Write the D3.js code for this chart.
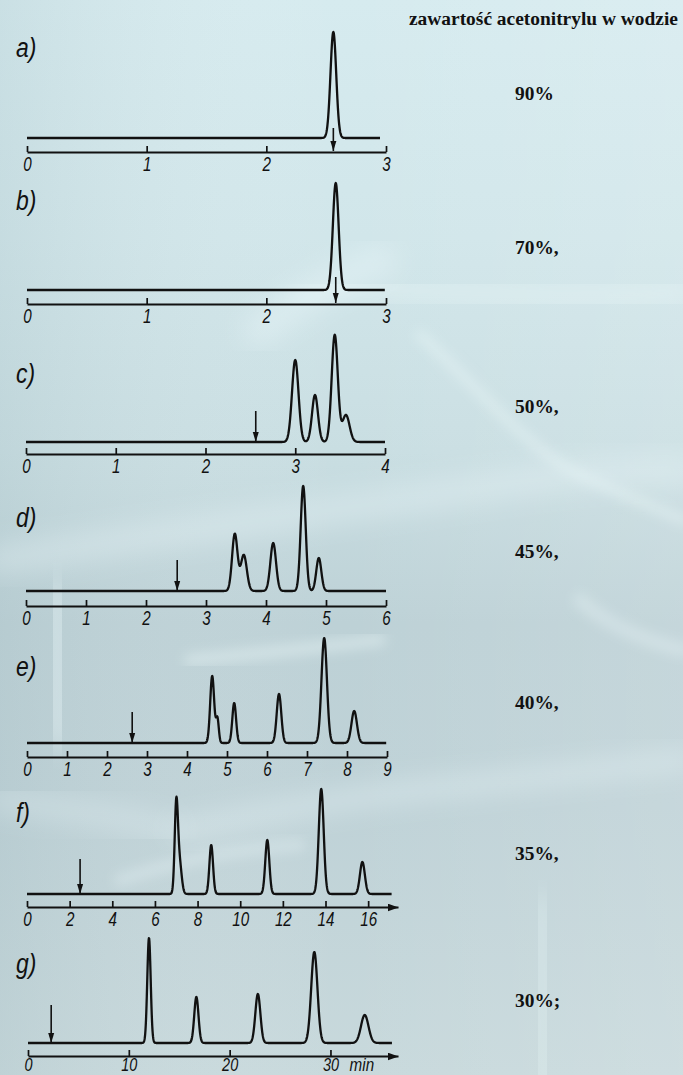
<!DOCTYPE html>
<html>
<head>
<meta charset="utf-8">
<script src="https://cdn.jsdelivr.net/npm/d3@7"></script>
<style>
  html, body { margin: 0; padding: 0; background: #cfe3e7; }
  svg { display: block; }
</style>
</head>
<body>
<script>
// ---------------- DATA ----------------
const panelLabels = ["a)", "b)", "c)", "d)", "e)", "f)", "g)"];
const acetonitrileLabels = ["90%", "70%,", "50%,", "45%,", "40%,", "35%,", "30%;"];
const headerText = "zawartość acetonitrylu w wodzie";

// axis domains (min)
const axisMax = [3, 3, 4, 6, 9, 17.4, 36.7];
// tick values per panel
const ticksA = [0, 1, 2, 3];
const ticksB = [0, 1, 2, 3];
const ticksC = [0, 1, 2, 3, 4];
const ticksD = [0, 1, 2, 3, 4, 5, 6];
const ticksE = [0, 1, 2, 3, 4, 5, 6, 7, 8, 9];
const ticksF = [0, 2, 4, 6, 8, 10, 12, 14, 16];
const ticksG = [0, 10, 20, 30];
const allTicks = [ticksA, ticksB, ticksC, ticksD, ticksE, ticksF, ticksG];

// end of recorded trace (min)
const traceEnd = [2.95, 2.99, 4.0, 6.0, 8.98, 17.1, 36.1];
// injection (dead time) marker, min
const injection = [2.56, 2.58, 2.56, 2.52, 2.63, 2.49, 2.3];

// peaks: [retention time (min), height (signal units), width sigma (min)]
const peaksA = [[2.56, 106, 0.024]];
const peaksB = [[2.58, 107, 0.024]];
const peaksC = [[3.00, 82, 0.036], [3.22, 47, 0.033], [3.44, 107, 0.034], [3.565, 27, 0.04]];
const peaksD = [[3.48, 57, 0.045], [3.63, 36, 0.05], [4.12, 48, 0.047], [4.62, 105, 0.042], [4.88, 33, 0.042]];
const peaksE = [[4.63, 67, 0.05], [4.76, 24, 0.035], [5.18, 40, 0.047], [6.30, 49, 0.057], [7.43, 105, 0.068], [8.18, 32, 0.068]];
const peaksF = [[7.0, 86, 0.075], [7.15, 32, 0.1], [8.64, 49, 0.085], [11.27, 54, 0.095], [13.8, 105, 0.115], [15.73, 32, 0.115]];
const peaksG = [[12.0, 105, 0.17], [16.7, 46, 0.21], [22.8, 49, 0.25], [28.4, 91, 0.31], [33.4, 28, 0.37]];
const allPeaks = [peaksA, peaksB, peaksC, peaksD, peaksE, peaksF, peaksG];

// ---------------- LAYOUT ----------------
const W = 683, H = 1075;
const layout = [
  { base: 138, axis: 152, x0: 27, x1: 386, arrowTop: 128, arrowToAxis: true, axisArrow: false, label: 57, pct: 100 },
  { base: 290, axis: 304, x0: 27, x1: 386, arrowTop: 277, arrowToAxis: true, axisArrow: false, label: 210, pct: 254 },
  { base: 442, axis: 454, x0: 26, x1: 385, arrowTop: 411, arrowToAxis: false, axisArrow: false, label: 383, pct: 413 },
  { base: 591, axis: 606, x0: 26, x1: 386, arrowTop: 560, arrowToAxis: false, axisArrow: false, label: 527, pct: 558 },
  { base: 743, axis: 757, x0: 27, x1: 387, arrowTop: 712, arrowToAxis: false, axisArrow: false, label: 676, pct: 709 },
  { base: 894, axis: 907, x0: 27, x1: 398, arrowTop: 859, arrowToAxis: false, axisArrow: true, label: 822, pct: 860 },
  { base: 1043, axis: 1056, x0: 28, x1: 398, arrowTop: 1005, arrowToAxis: false, axisArrow: true, label: 973, pct: 1007 }
];

const svg = d3.select("body").append("svg").attr("width", W).attr("height", H);
const defs = svg.append("defs");

// background gradient
const grad = defs.append("linearGradient").attr("id", "bg").attr("x1", 0).attr("y1", 0).attr("x2", 0).attr("y2", 1);
[[0, "#d6ebef"], [0.22, "#d1e6ea"], [0.42, "#c9dee2"], [0.58, "#bdd1d6"], [0.75, "#bfd2d7"], [1, "#c8d9dc"]]
  .forEach(([o, c]) => grad.append("stop").attr("offset", o).attr("stop-color", c));
const gradH = defs.append("linearGradient").attr("id", "bgH").attr("x1", 0).attr("y1", 0).attr("x2", 1).attr("y2", 0);
[[0, "#9fb8be", 0.22], [0.5, "#ffffff", 0], [1, "#ffffff", 0.12]]
  .forEach(([o, c, a]) => gradH.append("stop").attr("offset", o).attr("stop-color", c).attr("stop-opacity", a));

const blur = defs.append("filter").attr("id", "blur").attr("x", "-30%").attr("y", "-30%").attr("width", "160%").attr("height", "160%");
blur.append("feGaussianBlur").attr("stdDeviation", 12);
const blur2 = defs.append("filter").attr("id", "blur2").attr("x", "-30%").attr("y", "-30%").attr("width", "160%").attr("height", "160%");
blur2.append("feGaussianBlur").attr("stdDeviation", 6);

svg.append("rect").attr("width", W).attr("height", H).attr("fill", "url(#bg)");
svg.append("rect").attr("width", W).attr("height", H).attr("fill", "url(#bgH)");

// soft light "cloud" streaks in the background
const clouds = svg.append("g").attr("fill", "none").attr("stroke", "#eef9fb").attr("stroke-linecap", "round");
const streaks = [
  ["M 300 300 C 340 280 400 290 440 292 C 520 296 600 300 683 292", 22, 0.4, "blur"],
  ["M 260 330 C 300 300 350 270 380 262", 34, 0.35, "blur"],
  ["M 420 335 C 470 380 520 440 570 470 C 610 490 650 505 683 520", 10, 0.4, "blur2"],
  ["M 0 560 C 120 540 260 520 400 500 C 480 490 560 470 683 470", 30, 0.3, "blur"],
  ["M 380 640 C 300 650 240 655 190 660", 12, 0.4, "blur2"],
  ["M 55 600 C 60 640 55 690 60 730", 40, 0.35, "blur"],
  ["M 180 830 C 260 815 330 800 420 790 C 520 780 600 770 683 760", 20, 0.35, "blur"],
  ["M 120 880 C 180 860 230 850 300 845", 12, 0.3, "blur2"],
  ["M 540 920 C 545 980 540 1030 545 1075", 50, 0.22, "blur"],
  ["M 0 800 C 60 810 120 815 170 830", 24, 0.28, "blur"],
  ["M 580 600 C 600 620 640 640 683 650", 14, 0.3, "blur2"]
];
streaks.forEach(([d, w, o, f]) => clouds.append("path").attr("d", d).attr("stroke-width", w).attr("stroke-opacity", o).attr("filter", `url(#${f})`));

// arrowhead markers (drawn pointing along +x, oriented by the line)
defs.append("marker").attr("id", "headSmall").attr("markerUnits", "userSpaceOnUse")
  .attr("viewBox", "-10 -4 10 8").attr("refX", 0).attr("refY", 0)
  .attr("markerWidth", 10).attr("markerHeight", 8).attr("orient", "auto")
  .append("path").attr("d", "M -10 -3 L 0 0 L -10 3 Z").attr("fill", "#111");
defs.append("marker").attr("id", "headRight").attr("markerUnits", "userSpaceOnUse")
  .attr("viewBox", "-11 -4 11 8").attr("refX", 0).attr("refY", 0)
  .attr("markerWidth", 11).attr("markerHeight", 8).attr("orient", "auto")
  .append("path").attr("d", "M -11 -4 L 0 0 L -11 4 Z").attr("fill", "#111");

// ---------------- TEXT ----------------
svg.append("text")
  .attr("x", 409).attr("y", 25)
  .attr("font-family", "'Liberation Serif', 'Times New Roman', serif")
  .attr("font-weight", "bold").attr("font-size", 19.4)
  .attr("textLength", 269).attr("lengthAdjust", "spacingAndGlyphs")
  .attr("fill", "#111")
  .text(headerText);

// ---------------- PANELS ----------------
const line = d3.line();

layout.forEach((L, i) => {
  const g = svg.append("g");
  const x = d3.scaleLinear().domain([0, axisMax[i]]).range([L.x0, L.x1]);
  const y = d3.scaleLinear().domain([0, 100]).range([L.base, L.base - 100]);
  const peaks = allPeaks[i];
  const last = i === 6;

  // trace
  const N = 1400;
  const pts = d3.range(N + 1).map(k => {
    const t = traceEnd[i] * k / N;
    const s = d3.sum(peaks, p => p[1] * Math.exp(-((t - p[0]) ** 2) / (2 * p[2] * p[2])));
    return [x(t), y(s)];
  });
  g.append("path").attr("d", line(pts))
    .attr("fill", "none").attr("stroke", "#111").attr("stroke-width", 2.3)
    .attr("stroke-linejoin", "round");

  // time axis
  const axis = d3.axisBottom(x).tickValues(allTicks[i]).tickSizeInner(-6).tickSizeOuter(0).tickPadding(0)
    .tickFormat(d3.format("d"));
  const ag = g.append("g").attr("transform", `translate(0,${L.axis})`).call(axis);
  ag.select(".domain").attr("stroke", "#111").attr("stroke-width", 2)
    .attr("marker-end", L.axisArrow ? "url(#headRight)" : null);
  ag.selectAll(".tick line").attr("stroke", "#111").attr("stroke-width", 1.7);
  ag.selectAll(".tick text")
    .attr("y", last ? 14.5 : 19.5).attr("dy", 0)
    .attr("transform", "scale(0.76,1)")
    .attr("font-family", "'Liberation Sans', Arial, sans-serif")
    .attr("font-style", "italic").attr("font-size", last ? 19 : 20).attr("fill", "#111");
  ag.attr("font-size", null).attr("font-family", null);

  if (last) {
    g.append("text")
      .attr("transform", `translate(${x(31.9)},${L.axis + 14.5}) scale(0.8,1)`)
      .attr("font-family", "'Liberation Sans', Arial, sans-serif")
      .attr("font-style", "italic").attr("font-size", 19).attr("fill", "#111")
      .text("min");
  }

  // injection arrow
  const xa = x(injection[i]);
  g.append("line")
    .attr("x1", xa).attr("x2", xa)
    .attr("y1", L.arrowTop).attr("y2", L.arrowToAxis ? L.axis - 1 : L.base)
    .attr("stroke", "#111").attr("stroke-width", 1.6)
    .attr("marker-end", "url(#headSmall)");

  // panel letter
  g.append("text")
    .attr("transform", `translate(16,${L.label}) scale(0.85,1)`)
    .attr("font-family", "'Liberation Sans', Arial, sans-serif")
    .attr("font-style", "italic").attr("font-size", 27).attr("fill", "#111")
    .text(panelLabels[i]);

  // acetonitrile content
  g.append("text")
    .attr("x", 515).attr("y", L.pct)
    .attr("font-family", "'Liberation Serif', 'Times New Roman', serif")
    .attr("font-weight", "bold").attr("font-size", 19.4).attr("fill", "#111")
    .text(acetonitrileLabels[i]);
});
</script>
</body>
</html>
